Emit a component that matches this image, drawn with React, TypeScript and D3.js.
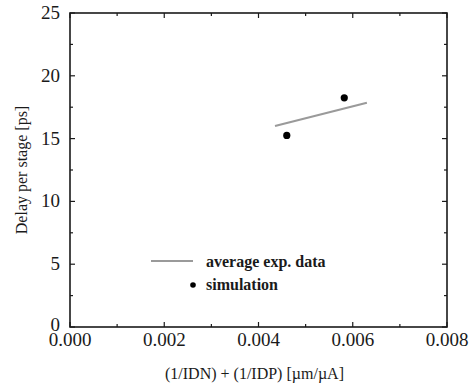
import React, { useEffect, useRef } from 'react';
import * as d3 from 'd3';

// averaged experimental trend line (endpoints)
const expX = [0.00435, 0.0063];
const expY = [16.0, 17.85];

// simulation points
const simX = [0.0046, 0.00582];
const simY = [15.25, 18.25];

const xMajor = [0, 0.002, 0.004, 0.006, 0.008];
const xMinor = [0.001, 0.003, 0.005, 0.007];
const yMajor = [0, 5, 10, 15, 20, 25];
const yMinor = [2.5, 7.5, 12.5, 17.5, 22.5];

const legendLabels = ['average exp. data', 'simulation'];

const App: React.FC = () => {
  const svgRef = useRef<SVGSVGElement | null>(null);

  useEffect(() => {
    if (!svgRef.current) return;
    const W = 475;
    const H = 387;
    const left = 70, right = 447, top = 13, bottom = 327;

    const svg = d3.select(svgRef.current);
    svg.selectAll('*').remove();
    svg.attr('width', W).attr('height', H);

    const x = d3.scaleLinear().domain([0, 0.008]).range([left, right]);
    const y = d3.scaleLinear().domain([0, 25]).range([bottom, top]);

    const font = '"Liberation Serif", "Times New Roman", serif';
    const ink = '#1a1a1a';

    // ticks (inward, all four sides)
    const tickG = svg.append('g').attr('stroke', ink).attr('stroke-width', 1.2);
    const xTicks = [...xMajor.map((v) => ({ v, len: 5 })), ...xMinor.map((v) => ({ v, len: 3 }))];
    const yTicks = [...yMajor.map((v) => ({ v, len: 5 })), ...yMinor.map((v) => ({ v, len: 3 }))];
    xTicks.forEach((t) => {
      tickG.append('line').attr('x1', x(t.v)).attr('x2', x(t.v)).attr('y1', bottom).attr('y2', bottom - t.len);
      tickG.append('line').attr('x1', x(t.v)).attr('x2', x(t.v)).attr('y1', top).attr('y2', top + t.len);
    });
    yTicks.forEach((t) => {
      tickG.append('line').attr('x1', left).attr('x2', left + t.len).attr('y1', y(t.v)).attr('y2', y(t.v));
      tickG.append('line').attr('x1', right).attr('x2', right - t.len).attr('y1', y(t.v)).attr('y2', y(t.v));
    });

    // frame
    svg.append('rect')
      .attr('x', left).attr('y', top)
      .attr('width', right - left).attr('height', bottom - top)
      .attr('fill', 'none').attr('stroke', ink).attr('stroke-width', 1.6);

    // tick labels
    svg.append('g').selectAll('text').data(xMajor).enter().append('text')
      .attr('x', (d) => x(d)).attr('y', bottom + 19)
      .attr('text-anchor', 'middle')
      .attr('font-family', font).attr('font-size', 19).attr('fill', ink)
      .text((d) => d3.format('.3f')(d));

    svg.append('g').selectAll('text').data(yMajor).enter().append('text')
      .attr('x', left - 10).attr('y', (d) => y(d) + (d === 0 ? 4 : 6))
      .attr('text-anchor', 'end')
      .attr('font-family', font).attr('font-size', 19).attr('fill', ink)
      .text((d) => String(d));

    // axis titles
    svg.append('text')
      .attr('x', (left + right) / 2 - 4).attr('y', 379)
      .attr('text-anchor', 'middle')
      .attr('font-family', font).attr('font-size', 16).attr('fill', ink)
      .text('(1/IDN) + (1/IDP) [\u00b5m/\u00b5A]');

    svg.append('text')
      .attr('transform', `translate(27, ${(top + bottom) / 2}) rotate(-90)`)
      .attr('text-anchor', 'middle')
      .attr('font-family', font).attr('font-size', 16).attr('fill', ink)
      .text('Delay per stage [ps]');

    // experimental average line
    const line = d3.line<number>().x((d) => x(expX[d])).y((d) => y(expY[d]));
    svg.append('path')
      .attr('d', line([0, 1]) ?? '')
      .attr('fill', 'none').attr('stroke', '#9a9a9a').attr('stroke-width', 2.2);

    // simulation points
    svg.append('g').selectAll('circle').data(simX).enter().append('circle')
      .attr('cx', (d) => x(d)).attr('cy', (_, i) => y(simY[i]))
      .attr('r', 3.6).attr('fill', '#000');

    // legend
    const lg = svg.append('g');
    lg.append('line').attr('x1', 151).attr('x2', 193).attr('y1', 261).attr('y2', 261)
      .attr('stroke', '#9a9a9a').attr('stroke-width', 2.2);
    lg.append('circle').attr('cx', 193).attr('cy', 285).attr('r', 2.8).attr('fill', '#000');
    legendLabels.forEach((lab, i) => {
      lg.append('text')
        .attr('x', 206).attr('y', 267 + i * 23)
        .attr('font-family', font).attr('font-size', 16).attr('font-weight', 'bold').attr('fill', ink)
        .text(lab);
    });
  }, []);

  return (
    <svg ref={svgRef} style={{ position: 'absolute', left: 0, top: 0, background: '#fff' }} />
  );
};

export default App;
